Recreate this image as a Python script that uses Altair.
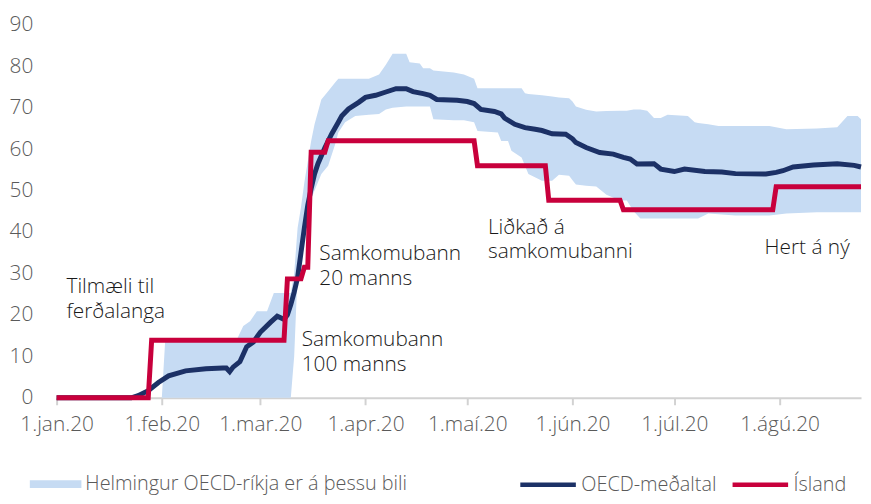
import altair as alt
import pandas as pd

# ---------------- data ----------------
mean_dates = ["2020-01-01", "2020-01-23", "2020-01-25", "2020-01-28", "2020-01-31", "2020-02-03",
              "2020-02-08", "2020-02-14", "2020-02-19", "2020-02-20", "2020-02-21", "2020-02-22",
              "2020-02-24", "2020-02-25", "2020-02-26", "2020-02-28", "2020-03-01", "2020-03-04",
              "2020-03-06", "2020-03-07", "2020-03-08", "2020-03-09", "2020-03-10", "2020-03-11",
              "2020-03-12", "2020-03-13", "2020-03-14", "2020-03-15", "2020-03-16", "2020-03-17",
              "2020-03-18", "2020-03-20", "2020-03-22", "2020-03-24", "2020-03-25", "2020-03-27",
              "2020-03-30", "2020-04-01", "2020-04-04", "2020-04-07", "2020-04-10", "2020-04-13",
              "2020-04-15", "2020-04-18", "2020-04-20", "2020-04-22", "2020-04-28", "2020-05-01",
              "2020-05-03", "2020-05-05", "2020-05-09", "2020-05-11", "2020-05-12", "2020-05-15",
              "2020-05-18", "2020-05-21", "2020-05-23", "2020-05-26", "2020-05-30", "2020-06-01",
              "2020-06-02", "2020-06-05", "2020-06-09", "2020-06-13", "2020-06-16", "2020-06-18",
              "2020-06-20", "2020-06-25", "2020-06-27", "2020-07-01", "2020-07-04", "2020-07-10",
              "2020-07-15", "2020-07-19", "2020-07-28", "2020-07-31", "2020-08-02", "2020-08-05",
              "2020-08-11", "2020-08-18", "2020-08-23", "2020-08-25"]
mean_vals = [0, 0, 0.5, 1.7, 3.7, 5.3,
             6.5, 7.0, 7.2, 7.2, 6.3, 7.4,
             8.7, 10.5, 12.3, 13.5, 15.8, 18.2,
             19.7, 19.3, 18.9, 20.0, 22.5, 25.5,
             29.0, 35.0, 41.0, 46.5, 50.5, 54.0,
             56.5, 60.3, 63.6, 66.5, 68.0, 69.7,
             71.3, 72.5, 73.0, 73.8, 74.6, 74.6,
             73.9, 73.4, 73.0, 72.0, 71.8, 71.5,
             71.0, 69.6, 69.1, 68.5, 67.5, 66.0,
             65.2, 64.8, 64.5, 63.7, 63.6, 62.5,
             61.6, 60.4, 59.2, 58.8, 58.0, 57.6,
             56.4, 56.5, 55.2, 54.6, 55.2, 54.6,
             54.5, 54.1, 54.0, 54.4, 54.8, 55.7,
             56.2, 56.5, 56.1, 55.7]

band_dates = ["2020-01-01", "2020-02-01", "2020-02-02", "2020-02-23", "2020-02-25", "2020-02-27",
              "2020-02-29", "2020-03-03", "2020-03-05", "2020-03-10", "2020-03-11", "2020-03-12",
              "2020-03-13", "2020-03-14", "2020-03-15", "2020-03-16", "2020-03-17", "2020-03-19",
              "2020-03-21", "2020-03-23", "2020-03-24", "2020-03-26", "2020-03-29", "2020-04-02",
              "2020-04-05", "2020-04-07", "2020-04-09", "2020-04-13", "2020-04-14", "2020-04-17",
              "2020-04-18", "2020-04-20", "2020-04-21", "2020-04-27", "2020-04-30", "2020-05-03",
              "2020-05-04", "2020-05-10", "2020-05-11", "2020-05-13", "2020-05-14", "2020-05-17",
              "2020-05-18", "2020-05-19", "2020-05-23", "2020-05-26", "2020-05-28", "2020-05-31",
              "2020-06-01", "2020-06-02", "2020-06-05", "2020-06-08", "2020-06-11", "2020-06-15",
              "2020-06-17", "2020-06-19", "2020-06-21", "2020-06-23", "2020-06-25", "2020-06-27",
              "2020-06-29", "2020-07-05", "2020-07-07", "2020-07-08", "2020-07-11", "2020-07-14",
              "2020-07-19", "2020-07-29", "2020-08-03", "2020-08-12", "2020-08-18", "2020-08-21",
              "2020-08-24", "2020-08-25"]
band_lo = [0, 0, 0, 0, 0, 0,
           0, 0, 0, 0, 10, 30,
           38, 42, 46, 48, 50, 54,
           56, 61, 64, 66.5, 68, 68.3,
           68.5, 69.6, 70, 70.3, 70.3, 70.3,
           70.3, 70.3, 67.2, 67, 67, 66.5,
           64.4, 64, 62, 62, 59.6, 58,
           56, 54, 52.4, 52.4, 53.8, 53.6,
           52.5, 51.5, 51.2, 51, 49, 47.6,
           47.6, 45, 43.3, 43.3, 43.3, 43.3,
           43.3, 43.3, 43.3, 43.3, 44.5, 44.3,
           44, 44, 44.5, 44.8, 44.8, 44.8,
           44.8, 44.8]
band_hi = [0, 0, 13.9, 13.9, 17.3, 18.5,
           20.9, 20.9, 25.3, 25.3, 30, 41,
           46, 52, 57, 62, 66, 72,
           74, 76, 77, 77, 77, 77,
           78, 80.4, 83, 83, 81, 80.7,
           79.5, 79.5, 79, 78.5, 78, 77,
           74.7, 74.7, 74.7, 74.7, 74.7, 74.7,
           73.5, 73.3, 73, 72.7, 72.5, 72.3,
           71.5, 70.3, 69.5, 69.1, 69.2, 69.3,
           69.3, 69.6, 69.6, 69.3, 67.5, 67.5,
           68.3, 68, 66.5, 66.3, 66, 65.6,
           65.6, 65.6, 64.8, 65, 65.3, 68,
           68, 67.2]

ice_dates = ["2020-01-01", "2020-01-29", "2020-03-09", "2020-03-14", "2020-03-16", "2020-03-21",
             "2020-05-04", "2020-05-25", "2020-06-16", "2020-07-31"]
ice_vals = [0, 13.89, 28.7, 31.5, 59.26, 62.04, 56.02, 47.69, 45.37, 50.93]
end_date = "2020-08-25"

ann_texts = ["Tilmæli til\nferðalanga", "Samkomubann\n100 manns", "Samkomubann\n20 manns",
             "Liðkað á\nsamkomubanni", "Hert á ný"]
ann_dates = ["2020-01-03T22:00:00", "2020-03-13T05:00:00", "2020-03-18T10:00:00",
             "2020-05-07T02:00:00", "2020-07-27T14:00:00"]
ann_vals = [29.3, 16.5, 37.3, 43.7, 38.7]

month_labels = ["jan", "feb", "mar", "apr", "maí", "jún", "júl", "ágú"]

BAND_LABEL = "Helmingur OECD-ríkja er á þessu bili"
MEAN_LABEL = "OECD-meðaltal"
ICE_LABEL = "Ísland"

# ---------------- styling ----------------
FONT = "Open Sans"
BAND = "#C6DBF3"
NAVY = "#1C3166"
RED = "#C8003C"
GREY = "#5a5a5a"


def local(d):
    return d if "T" in d else d + "T00:00:00"


band_df = pd.DataFrame({"date": [local(d) for d in band_dates], "lo": band_lo, "hi": band_hi,
                        "s": BAND_LABEL})
mean_df = pd.DataFrame({"date": [local(d) for d in mean_dates], "v": mean_vals})

# Iceland: stepped series built from the change points
ice_rows = [(pd.Timestamp(ice_dates[0]), ice_vals[0])]
for i in range(1, len(ice_dates)):
    t = pd.Timestamp(ice_dates[i])
    ice_rows.append((t - pd.Timedelta(days=1), ice_vals[i - 1]))
    ice_rows.append((t, ice_vals[i]))
ice_rows.append((pd.Timestamp(end_date), ice_vals[-1]))
ice_df = pd.DataFrame({"date": [r[0].strftime("%Y-%m-%dT%H:%M:%S") for r in ice_rows],
                       "v": [r[1] for r in ice_rows]})

ann_df = pd.DataFrame({"date": ann_dates, "v": ann_vals, "t": ann_texts})

x_scale = alt.Scale(domain=[alt.DateTime(year=2020, month=1, date=1),
                            alt.DateTime(year=2020, month=8, date=25)])
y_scale = alt.Scale(domain=[0, 90], nice=False)

x_axis = alt.Axis(
    values=[alt.DateTime(year=2020, month=m, date=1) for m in range(1, 9)],
    labelExpr="'1.' + " + str(month_labels).replace(" ", "") + "[month(datum.value)] + '.20'",
    title=None, grid=False, domainColor="#d2d2d2", domainWidth=2, tickColor="#d2d2d2",
    tickWidth=2, tickSize=7, labelPadding=9, labelFont=FONT, labelFontSize=21,
    labelFontWeight=300, labelColor=GREY, labelFlush=False, labelOverlap=False)
y_axis = alt.Axis(values=list(range(0, 91, 10)), title=None, grid=False, domain=False,
                  ticks=False, labelPadding=24, labelFont=FONT, labelFontSize=21,
                  labelFontWeight=300, labelColor=GREY)

band = alt.Chart(band_df).mark_area(opacity=1, interpolate="linear").encode(
    x=alt.X("date:T", scale=x_scale, axis=x_axis),
    y=alt.Y("lo:Q", scale=y_scale, axis=y_axis),
    y2="hi:Q",
    fill=alt.Fill("s:N", scale=alt.Scale(domain=[BAND_LABEL], range=[BAND]),
                  legend=alt.Legend(orient="none", legendX=-27, legendY=437, title=None,
                                    symbolType="M-1,-0.154H1V0.154H-1Z", symbolSize=2704,
                                    symbolStrokeWidth=0, symbolOpacity=1, labelFont=FONT,
                                    labelFontSize=20, labelFontWeight=300, labelColor=GREY,
                                    labelOffset=4, labelLimit=0, padding=0)),
)

stroke_scale = alt.Scale(domain=[MEAN_LABEL, ICE_LABEL], range=[NAVY, RED])
stroke_legend = alt.Legend(orient="none", legendX=465, legendY=433, direction="horizontal",
                           title=None, symbolType="stroke", symbolSize=3136,
                           symbolStrokeWidth=4.5, labelFont=FONT, labelFontSize=20,
                           labelFontWeight=300, labelColor=GREY, labelOffset=3,
                           labelLimit=0, columnPadding=6, padding=0)

mean_line = alt.Chart(mean_df).mark_line(strokeWidth=5).encode(
    x="date:T", y="v:Q",
    stroke=alt.Stroke("s:N", scale=stroke_scale, legend=stroke_legend),
).transform_calculate(s="'" + MEAN_LABEL + "'")

ice_line = alt.Chart(ice_df).mark_line(strokeWidth=5).encode(
    x="date:T", y="v:Q",
    stroke=alt.Stroke("s:N", scale=stroke_scale, legend=stroke_legend),
).transform_calculate(s="'" + ICE_LABEL + "'")

ann = alt.Chart(ann_df).mark_text(align="left", baseline="top", lineBreak="\n", lineHeight=25,
                                  font=FONT, fontSize=21, fontWeight=300,
                                  color="#1a1a1a").encode(
    x="date:T", y="v:Q", text="t:N")

chart = alt.layer(band, mean_line, ice_line, ann).properties(
    width=811, height=376,
    padding={"left": 49, "top": 15, "right": 2, "bottom": 97},
    autosize=alt.AutoSizeParams(type="none"),
    background="white",
).configure_view(stroke=None)

chart.save("out.html", embed_options={"renderer": "svg", "actions": False})
